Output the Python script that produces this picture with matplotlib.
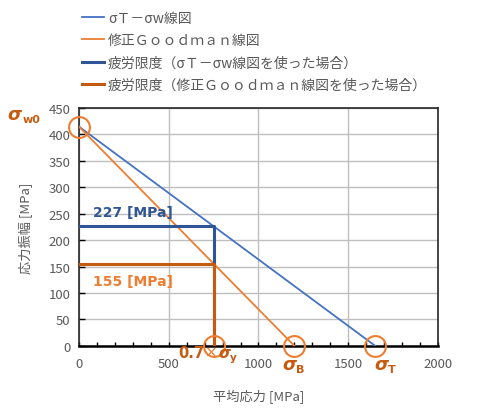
import matplotlib
matplotlib.use("Agg")
import matplotlib.pyplot as plt
from matplotlib.ticker import MultipleLocator

plt.rcParams['font.family'] = ['Noto Sans CJK JP', 'DejaVu Sans']

# Data
sigma_w0 = 415
sigma_B = 1200
sigma_T = 1650
x_07sy = 750
limit_T = 227
limit_G = 155

soderberg_x = [0, sigma_T]
soderberg_y = [sigma_w0, 0]
goodman_x = [0, sigma_B]
goodman_y = [sigma_w0, 0]
limT_x = [0, x_07sy, x_07sy]
limT_y = [limit_T, limit_T, 0]
limG_x = [0, x_07sy, x_07sy]
limG_y = [limit_G, limit_G, 0]
circle_x = [0, x_07sy, sigma_B, sigma_T]
circle_y = [sigma_w0, 0, 0, 0]

labels = ["σＴ－σw線図", "修正Ｇｏｏｄｍａｎ線図",
          "疲労限度（σＴ－σw線図を使った場合）",
          "疲労限度（修正Ｇｏｏｄｍａｎ線図を使った場合）"]

C_BLUE = "#4472C4"
C_ORANGE = "#ED7D31"
C_DBLUE = "#2F5597"
C_DORANGE = "#C55A11"
GRAY = "#595959"

fig = plt.figure(figsize=(4.9, 4.1), dpi=100)
ax = fig.add_axes([0.161, 0.154, 0.733, 0.580])

l1, = ax.plot(soderberg_x, soderberg_y, color=C_BLUE, lw=1.3, zorder=3)
l2, = ax.plot(goodman_x, goodman_y, color=C_ORANGE, lw=1.3, zorder=3)
l3, = ax.plot(limT_x, limT_y, color=C_DBLUE, lw=2.2, zorder=4)
l4, = ax.plot(limG_x, limG_y, color=C_DORANGE, lw=2.2, zorder=5)
ax.plot(circle_x, circle_y, linestyle='none', marker='o', ms=15, mfc='none',
        mec=C_ORANGE, mew=1.5, zorder=6, clip_on=False)

ax.set_xlim(0, 2000)
ax.set_ylim(0, 450)
ax.xaxis.set_major_locator(MultipleLocator(500))
ax.xaxis.set_minor_locator(MultipleLocator(100))
ax.yaxis.set_major_locator(MultipleLocator(50))
ax.grid(True, which='major', color='#BFBFBF', lw=1.0, zorder=0)
ax.set_axisbelow(True)
ax.tick_params(axis='both', which='both', direction='in', colors='black',
               labelcolor=GRAY, labelsize=9.5, length=3, width=1)
ax.tick_params(axis='x', which='major', pad=8)
ax.tick_params(axis='y', which='major', pad=6)
ax.tick_params(axis='y', which='major', length=4)
for s in ax.spines.values():
    s.set_color('#262626')
    s.set_linewidth(1.2)
ax.spines['bottom'].set_linewidth(1.8)
ax.spines['bottom'].set_color('black')

ax.set_xlabel("平均応力 [MPa]", color=GRAY, fontsize=9.5, labelpad=14)
ax.set_ylabel("応力振幅 [MPa]", color=GRAY, fontsize=9.5, labelpad=12)

fig.legend([l1, l2, l3, l4], labels, loc='upper left',
           bbox_to_anchor=(0.155, 0.985), frameon=False, fontsize=10,
           labelcolor=GRAY, handlelength=1.6, handletextpad=0.3,
           labelspacing=0.6, borderaxespad=0)

# annotations
ax.text(78, 254, "227 [MPa]", color=C_DBLUE, fontsize=10, fontweight='bold',
        family=['DejaVu Sans'], va='center', ha='left')
ax.text(78, 122, "155 [MPa]", color=C_ORANGE, fontsize=10, fontweight='bold',
        family=['DejaVu Sans'], va='center', ha='left')

fig.text(0.016, 0.72, "σ", color=C_DORANGE, fontsize=13, fontweight='bold',
         style='italic', family=['DejaVu Sans'], va='center')
fig.text(0.047, 0.708, "w0", color=C_DORANGE, fontsize=8, fontweight='bold',
         family=['DejaVu Sans'], va='center')

fig.text(0.363, 0.137, "0.7", color=C_DORANGE, fontsize=10.5, fontweight='bold',
         family=['DejaVu Sans'], va='center', zorder=10)
fig.text(0.418, 0.139, "×", color=C_ORANGE, fontsize=11, family=['DejaVu Sans'],
         va='center', zorder=10)
fig.text(0.445, 0.137, "σ", color=C_DORANGE, fontsize=11, fontweight='bold',
         style='italic', family=['DejaVu Sans'], va='center', zorder=10)
fig.text(0.470, 0.128, "y", color=C_DORANGE, fontsize=7.5, fontweight='bold',
         family=['DejaVu Sans'], va='center', zorder=10)

fig.text(0.5755, 0.110, "σ", color=C_DORANGE, fontsize=13, fontweight='bold',
         style='italic', family=['DejaVu Sans'], va='center')
fig.text(0.604, 0.097, "B", color=C_DORANGE, fontsize=8, fontweight='bold',
         family=['DejaVu Sans'], va='center')
fig.text(0.763, 0.110, "σ", color=C_DORANGE, fontsize=13, fontweight='bold',
         style='italic', family=['DejaVu Sans'], va='center')
fig.text(0.792, 0.097, "T", color=C_DORANGE, fontsize=8, fontweight='bold',
         family=['DejaVu Sans'], va='center')

fig.savefig("out.png", dpi=100)
